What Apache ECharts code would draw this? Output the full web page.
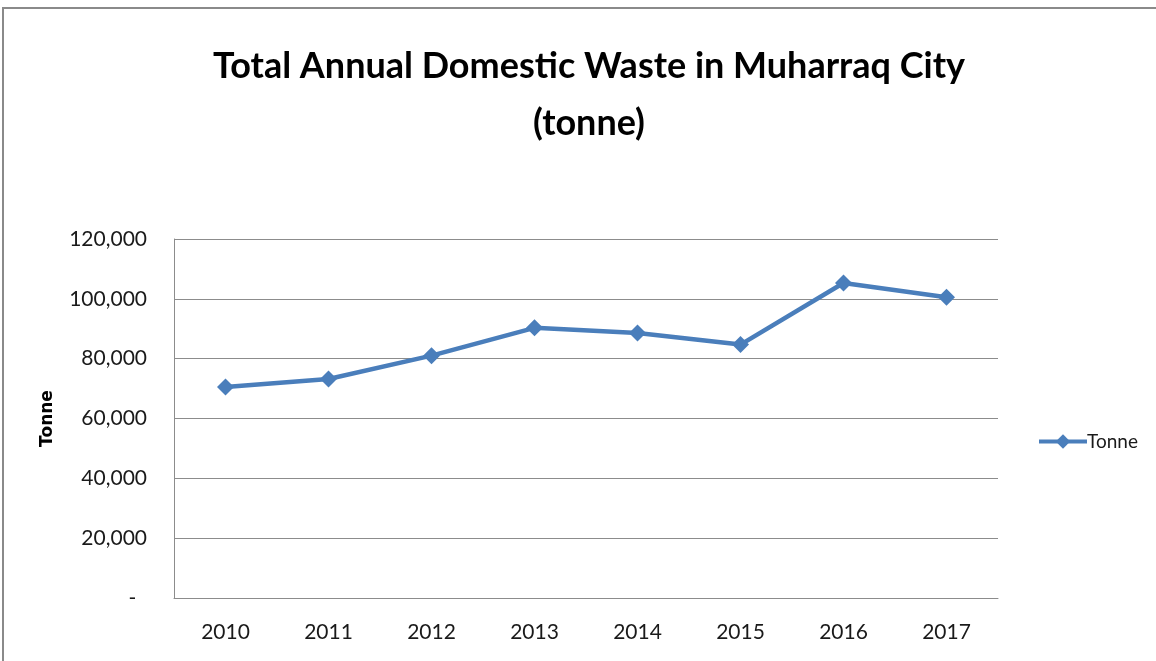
<!DOCTYPE html>
<html>
<head>
<meta charset="utf-8">
<title>Total Annual Domestic Waste in Muharraq City</title>
<script src="https://cdn.jsdelivr.net/npm/echarts@6/dist/echarts.min.js"></script>
<style>
  html, body { margin: 0; padding: 0; background: #ffffff; }
  #chart { width: 1156px; height: 661px; }
</style>
</head>
<body>
<div id="chart"></div>
<script>
// Annual domestic waste collected in Muharraq City, tonnes
const years = ['2010', '2011', '2012', '2013', '2014', '2015', '2016', '2017'];
const tonnes = [70500, 73200, 81000, 90300, 88600, 84700, 105300, 100500];
const seriesName = 'Tonne';
const titleText = 'Total Annual Domestic Waste in Muharraq City\n(tonne)';

const FONT = 'Lato, "Open Sans", sans-serif';
const BLUE = '#4A7EBB';
const GRID = '#8c8c8c';

// accounting-style ticks: zero shows as a dash
function formatTick(v) {
  if (v === 0) return '-  ';
  return v.toLocaleString('en-US');
}

const chart = echarts.init(document.getElementById('chart'), null, { renderer: 'canvas' });

chart.setOption({
  animation: false,
  backgroundColor: '#ffffff',
  textStyle: { fontFamily: FONT },
  title: {
    text: titleText,
    left: 584,
    top: 33,
    textAlign: 'center',
    textStyle: {
      fontFamily: FONT,
      fontSize: 36,
      fontWeight: 'bold',
      color: '#000000',
      lineHeight: 57
    }
  },
  graphic: [{
    type: 'rect',
    shape: { x: 3, y: 8, width: 1200, height: 700 },
    style: { fill: 'none', stroke: '#8a8a8a', lineWidth: 2 },
    silent: true,
    z: -1
  }],
  legend: {
    data: [seriesName],
    left: 1032,
    top: 427,
    itemWidth: 48,
    itemHeight: 18,
    itemGap: 4,
    lineStyle: { width: 4 },
    textStyle: { fontFamily: FONT, fontSize: 19, color: '#1a1a1a', padding: [0, 0, 0, -5] }
  },
  grid: {
    left: 174,
    right: 158,
    top: 239,
    bottom: 63,
    containLabel: false
  },
  xAxis: {
    type: 'category',
    data: years,
    boundaryGap: true,
    axisLine: { show: true, lineStyle: { color: GRID, width: 1 } },
    axisTick: { show: false },
    axisLabel: {
      margin: 24,
      fontFamily: FONT,
      fontSize: 21,
      color: '#1a1a1a'
    },
    splitLine: { show: false }
  },
  yAxis: {
    type: 'value',
    min: 0,
    max: 120000,
    interval: 20000,
    name: 'Tonne',
    nameLocation: 'middle',
    nameGap: 118,
    nameRotate: 90,
    nameTextStyle: {
      fontFamily: '"DejaVu Sans", Verdana, sans-serif',
      fontSize: 17,
      fontWeight: 'bold',
      color: '#000000'
    },
    axisLine: { show: true, lineStyle: { color: GRID, width: 1 } },
    axisTick: { show: false },
    axisLabel: {
      margin: 27,
      fontFamily: FONT,
      fontSize: 21,
      color: '#1a1a1a',
      formatter: formatTick
    },
    splitLine: { show: true, lineStyle: { color: GRID, width: 1 } }
  },
  series: [{
    name: seriesName,
    type: 'line',
    data: tonnes,
    symbol: 'diamond',
    symbolSize: 17,
    lineStyle: { color: BLUE, width: 4.5 },
    itemStyle: { color: BLUE },
    emphasis: { disabled: true }
  }]
});
</script>
</body>
</html>
